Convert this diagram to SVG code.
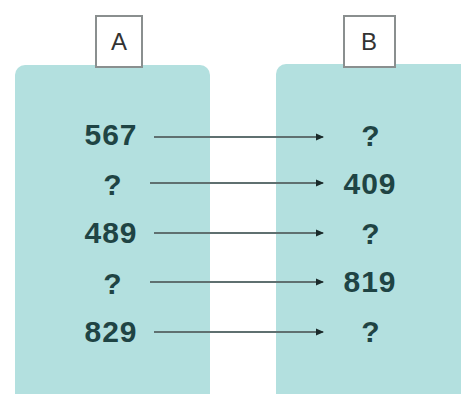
<svg xmlns="http://www.w3.org/2000/svg" width="461" height="394" viewBox="0 0 461 394">
<defs>
<marker id="ah" markerWidth="8" markerHeight="8" refX="7" refY="4" orient="auto" markerUnits="userSpaceOnUse">
<path d="M0,0.5 L8,4 L0,7.5 Z" fill="#1a2a2a"/>
</marker>
</defs>
<style>
.panel{fill:#b3e0df}
.lbl{fill:#ffffff;stroke:#8a8f8f;stroke-width:2}
.lt{font-family:"Liberation Sans",Arial,sans-serif;font-size:24px;fill:#333;text-anchor:middle}
.num{font-family:"Liberation Sans",Arial,sans-serif;font-size:30px;font-weight:bold;fill:#1f4444;text-anchor:middle;letter-spacing:1px}
.conn{stroke:#5f7070;stroke-width:2;fill:none;marker-end:url(#ah)}
</style>
<rect width="461" height="394" fill="#ffffff"/>
<g id="panelA">
<rect class="panel" x="15" y="65" width="195" height="340" rx="10"/>
<rect class="lbl" x="96" y="16" width="46" height="51"/>
<text class="lt" x="119" y="50">A</text>
</g>
<g id="panelB">
<rect class="panel" x="276" y="64" width="200" height="340" rx="10"/>
<rect class="lbl" x="344" y="16" width="51" height="51"/>
<text class="lt" x="369" y="50">B</text>
</g>
<g id="a1"><text class="num" x="111" y="145">567</text></g>
<g id="a2"><text class="num" x="113" y="195">?</text></g>
<g id="a3"><text class="num" x="111" y="243">489</text></g>
<g id="a4"><text class="num" x="113" y="294">?</text></g>
<g id="a5"><text class="num" x="111" y="342">829</text></g>
<g id="b1"><text class="num" x="371" y="146">?</text></g>
<g id="b2"><text class="num" x="370" y="194">409</text></g>
<g id="b3"><text class="num" x="371" y="244">?</text></g>
<g id="b4"><text class="num" x="370" y="292">819</text></g>
<g id="b5"><text class="num" x="371" y="342">?</text></g>
<g id="connectors">
<line class="conn" x1="154" y1="137" x2="323" y2="137"/>
<line class="conn" x1="150" y1="183" x2="323" y2="183"/>
<line class="conn" x1="154" y1="233" x2="323" y2="233"/>
<line class="conn" x1="150" y1="282" x2="323" y2="282"/>
<line class="conn" x1="154" y1="332" x2="323" y2="332"/>
</g>
</svg>
